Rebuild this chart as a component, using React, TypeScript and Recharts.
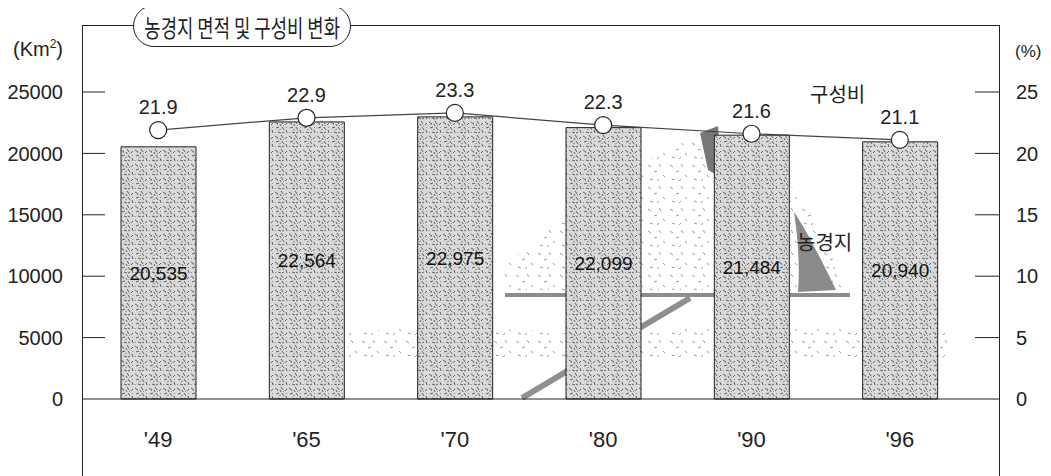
import {
  ComposedChart,
  Bar,
  Line,
  XAxis,
  YAxis,
  LabelList
} from 'recharts';

const years = ["'49", "'65", "'70", "'80", "'90", "'96"];
const farmArea = [20535, 22564, 22975, 22099, 21484, 20940];
const sharePct = [21.9, 22.9, 23.3, 22.3, 21.6, 21.1];
const areaTicks = [0, 5000, 10000, 15000, 20000, 25000];
const pctTicks = [0, 5, 10, 15, 20, 25];

const SANS = "'Liberation Sans', Arial, sans-serif";
const KOREAN = "'Noto Sans CJK KR', sans-serif";
const INK = '#222';

const chartData = years.map((year, i) => ({
  year,
  area: farmArea[i],
  share: sharePct[i]
}));

const LeftTick = ({ x, y, payload }: any) => (
  <g>
    <text x={x} y={y} dy="0.36em" textAnchor="end" fontSize={20} fontFamily={SANS} fill={INK}>
      {payload.value}
    </text>
    {payload.value > 0 && <line x1={x + 19} x2={x + 42} y1={y} y2={y} stroke={INK} strokeWidth={1} />}
  </g>
);

const RightTick = ({ x, y, payload }: any) => (
  <g>
    <text x={x} y={y} dy="0.36em" textAnchor="start" fontSize={20} fontFamily={SANS} fill={INK}>
      {payload.value}
    </text>
    {payload.value > 0 && <line x1={x - 17} x2={x - 41} y1={y} y2={y} stroke={INK} strokeWidth={1} />}
  </g>
);

export default function App() {
  return (
    <div style={{ position: 'relative', width: 1043, height: 468 }}>
      <svg width={0} height={0} style={{ position: 'absolute' }}>
        <defs>
          <pattern id="stipple" patternUnits="userSpaceOnUse" width={14} height={14}>
            <rect width={14} height={14} fill="#dadada" />
            <path d="M1 2l3 2M7 1l2 3M11 5l2-2M2 8l3-1M8 7l2 3M12 10l1 3M4 12l3 1M6 4l1 2M10 12l-2 1" stroke="#5e5e5e" strokeWidth={1} />
            <path d="M3 5l1-1M9 5l1 1M5 10l2-1M12 7l1 1M1 12l1 1" stroke="#8a8a8a" strokeWidth={1} />
          </pattern>
          <pattern id="sparse" patternUnits="userSpaceOnUse" width={22} height={22}>
            <path d="M2 3l3 2M13 2l2 3M8 10l3-1M17 13l2 2M4 17l3 1M11 19l2-2" stroke="#9a9a9a" strokeWidth={1} />
          </pattern>
        </defs>
      </svg>

      {/* faint landscape sketch behind the bars */}
      <svg width={1043} height={468} style={{ position: 'absolute', left: 0, top: 0 }}>
        <polygon points="497,258 560,205 640,152 700,122 760,150 800,200 840,282 497,282" fill="url(#sparse)" />
        <polygon points="340,325 420,318 520,322 600,330 700,318 800,320 940,322 940,352 340,352" fill="url(#sparse)" />
        <rect x={497} y={285} width={345} height={4} fill="#8c8c8c" />
        <polygon points="692,125 710,118 714,170 700,162" fill="#777" />
        <path d="M786,204 C800,225 815,255 828,282 L790,284 C792,260 790,230 786,204 Z" fill="#8a8a8a" />
        <line x1={514} y1={390} x2={682} y2={290} stroke="#8f8f8f" strokeWidth={6} />
      </svg>

      {/* frame around the plot */}
      <div
        style={{
          position: 'absolute',
          left: 74,
          top: 17,
          width: 918,
          height: 460,
          boxSizing: 'border-box',
          borderLeft: `1px solid ${INK}`,
          borderRight: `1px solid ${INK}`,
          borderTop: `1px solid ${INK}`
        }}
      />

      <ComposedChart
        width={1043}
        height={468}
        data={chartData}
        margin={{ top: 84, right: 0, left: 0, bottom: 17 }}
        style={{ position: 'absolute', left: 0, top: 0 }}
      >
        <XAxis
          dataKey="year"
          height={60}
          padding={{ left: 2, right: 25 }}
          tickLine={false}
          tickSize={0}
          tickMargin={32}
          axisLine={{ stroke: INK, strokeWidth: 1 }}
          tick={{ fontSize: 22, fontFamily: SANS, fill: INK }}
        />
        <YAxis
          yAxisId="left"
          width={74}
          domain={[0, 25000]}
          ticks={areaTicks}
          axisLine={false}
          tickLine={false}
          tickSize={0}
          tickMargin={19}
          tick={<LeftTick />}
        />
        <YAxis
          yAxisId="right"
          orientation="right"
          width={52}
          domain={[0, 25]}
          ticks={pctTicks}
          axisLine={false}
          tickLine={false}
          tickSize={0}
          tickMargin={17}
          tick={<RightTick />}
        />
        <Bar
          yAxisId="left"
          dataKey="area"
          barSize={75}
          fill="url(#stipple)"
          stroke={INK}
          strokeWidth={1}
          isAnimationActive={false}
        >
          <LabelList
            dataKey="area"
            position="center"
            formatter={(v: any) => Number(v).toLocaleString('en-US')}
            style={{ fontSize: 19, fontFamily: SANS, fill: '#111' }}
          />
        </Bar>
        <Line
          yAxisId="right"
          dataKey="share"
          stroke="#444"
          strokeWidth={1.2}
          dot={{ r: 8.5, fill: '#fff', stroke: INK, strokeWidth: 1.2 }}
          activeDot={false}
          isAnimationActive={false}
        >
          <LabelList
            dataKey="share"
            position="top"
            offset={16}
            formatter={(v: any) => Number(v).toFixed(1)}
            style={{ fontSize: 20, fontFamily: SANS, fill: INK }}
          />
        </Line>
      </ComposedChart>

      {/* title pill */}
      <div
        style={{
          position: 'absolute',
          left: 125,
          top: -3,
          width: 218,
          height: 42,
          boxSizing: 'border-box',
          border: `1px solid ${INK}`,
          borderRadius: 21,
          background: '#fff',
          display: 'flex',
          alignItems: 'center',
          justifyContent: 'center',
          overflow: 'hidden'
        }}
      >
        <span
          style={{
            fontFamily: KOREAN,
            fontSize: 24,
            color: INK,
            whiteSpace: 'nowrap',
            display: 'inline-block',
            transform: 'scaleX(0.74)'
          }}
        >
          농경지 면적 및 구성비 변화
        </span>
      </div>

      <div style={{ position: 'absolute', left: 5, top: 30, fontFamily: SANS, fontSize: 20, lineHeight: '22px', color: INK }}>
        (Km<sup style={{ fontSize: 12, lineHeight: 0 }}>2</sup>)
      </div>
      <div style={{ position: 'absolute', left: 1007, top: 34, fontFamily: SANS, fontSize: 17, lineHeight: '19px', color: INK }}>
        (%)
      </div>
      <div style={{ position: 'absolute', left: 802, top: 71, fontFamily: KOREAN, fontSize: 20, color: INK }}>
        구성비
      </div>
      <div style={{ position: 'absolute', left: 789, top: 219, fontFamily: KOREAN, fontSize: 20, color: INK }}>
        농경지
      </div>
    </div>
  );
}
